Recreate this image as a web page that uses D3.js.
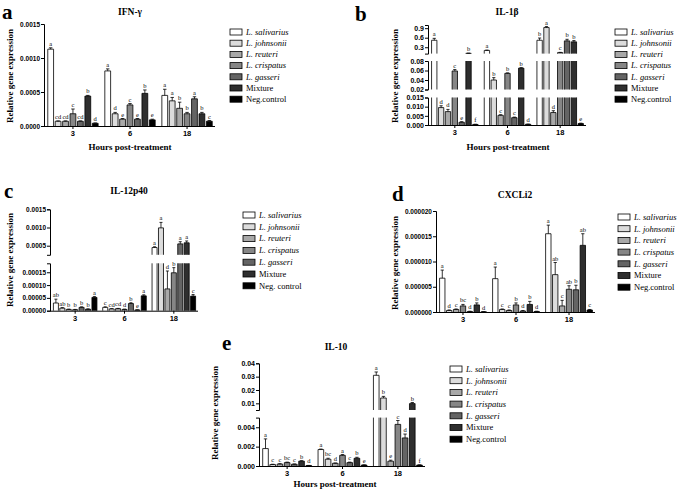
<!DOCTYPE html>
<html><head><meta charset="utf-8">
<script src="https://cdn.jsdelivr.net/npm/d3@7"></script>
<style>body{margin:0;background:#fff}svg{display:block}</style>
</head><body><svg id="chart" width="685" height="490"></svg>
<script>
// ---------- data ----------
const hours = ["3", "6", "18"];
const strains = ["L. salivarius", "L. johnsonii", "L. reuteri", "L. crispatus", "L. gasseri", "Mixture", "Neg.control"];
const strainsC = ["L. salivarius", "L. johnsonii", "L. reuteri", "L. crispatus", "L. gasseri", "Mixture", "Neg. control"];
const italicFlags = [true, true, true, true, true, false, false];

// IFN-γ
const ifnMean = [[0.00113, 0.00007, 0.00007, 0.00018, 0.00007, 0.00044, 0.00004],
                 [0.00081, 0.00018, 0.00010, 0.00031, 0.00010, 0.00048, 0.00009],
                 [0.00045, 0.00037, 0.00026, 0.00018, 0.00040, 0.00018, 0.00007]];
const ifnSd   = [[0.00002, 0.000005, 0.000005, 0.00007, 0.000005, 0.00001, 0.000005],
                 [0.00003, 0.00002, 0.00001, 0.00002, 0.00001, 0.00005, 0.00001],
                 [0.00009, 0.00005, 0.00009, 0.00002, 0.00003, 0.00002, 0.00001]];
const ifnSig  = [["a","cd","cd","c","cd","b","d"], ["a","d","e","c","e","b","e"], ["a","a","b","b","a","b","c"]];

// IL-1β
const il1Mean = [[0.52, 0.0095, 0.0073, 0.059, 0.0015, 0.11, 0.0003],
                 [0.20, 0.040, 0.0053, 0.054, 0.0040, 0.065, 0.0004],
                 [0.52, 0.92, 0.0068, 0.13, 0.50, 0.47, 0.0008]];
const il1Sd   = [[0.06, 0.001, 0.0012, 0.003, 0.0003, 0.004, 0.0001],
                 [0.01, 0.005, 0.0003, 0.001, 0.0003, 0.001, 0.0001],
                 [0.07, 0.03, 0.001, 0.01, 0.05, 0.04, 0.0002]];
const il1Sig  = [["a","d","d","c","e","b","f"], ["a","b","c","b","c","b","d"], ["b","a","d","c","b","b","e"]];

// IL-12p40
const il12Mean = [[0.000030, 0.000010, 0.000005, 0.000004, 0.000013, 0.000006, 0.000052],
                  [0.000013, 0.000007, 0.000008, 0.000005, 0.000028, 0.000003, 0.000058],
                  [0.00045, 0.00099, 0.000085, 0.000148, 0.00055, 0.00058, 0.000057]];
const il12Sd   = [[0.000015, 0.000002, 0.000001, 0.000001, 0.000002, 0.000001, 0.000003],
                  [0.000002, 0.000001, 0.000001, 0.000001, 0.000003, 0.0000005, 0.000004],
                  [0.00002, 0.00015, 0.00007, 0.00002, 0.00006, 0.00005, 0.000006]];
const il12Sig  = [["ab","ab","b","b","b","b","a"], ["c","cd","cd","d","b","e","a"], ["a","a","d","b","a","a","c"]];

// CXCLi2
const cxMean = [[6.7e-6, 3e-7, 5e-7, 1.2e-6, 1e-7, 1.4e-6, 5e-8],
                [6.6e-6, 5e-7, 3e-7, 1.4e-6, 2e-7, 1.5e-6, 1e-7],
                [1.55e-5, 7.4e-6, 1.2e-6, 4.5e-6, 4.4e-6, 1.32e-5, 4e-7]];
const cxSd   = [[1.6e-6, 1e-7, 1e-7, 3e-7, 5e-8, 4e-7, 2e-8],
                [2.3e-6, 1e-7, 1e-7, 4e-7, 1e-7, 6e-7, 5e-8],
                [1.7e-6, 2.4e-6, 1.1e-6, 7e-7, 9e-7, 2.3e-6, 1e-7]];
const cxSig  = [["a","d","c","bc","d","b","d"], ["a","c","c","b","d","b","d"], ["a","ab","c","ab","b","ab","c"]];

// IL-10
const il10Mean = [[0.0018, 0.00015, 0.00020, 0.00035, 0.00018, 0.00050, 0.00005],
                  [0.0017, 0.00070, 0.00028, 0.00110, 0.00035, 0.00080, 0.00010],
                  [0.031, 0.014, 0.0005, 0.0043, 0.0029, 0.0098, 0.0001]];
const il10Sd   = [[0.0010, 0.00003, 0.00004, 0.00005, 0.00003, 0.00005, 0.00001],
                  [0.00005, 0.0001, 0.00003, 0.00008, 0.00005, 0.0001, 0.00002],
                  [0.0025, 0.0012, 0.0001, 0.0004, 0.0004, 0.0008, 0.00002]];
const il10Sig  = [["a","c","c","bc","c","b","d"], ["a","bc","d","a","c","b","e"], ["a","b","e","c","d","b","f"]];

// ---------- styles ----------
const fills = ["#ffffff", "#dcdcdc", "#a8a8a8", "#868686", "#646464", "#2e2e2e", "#000000"];
const SERIF = "'Liberation Serif','Times New Roman',serif";
const SANS = "'Liberation Sans',Arial,sans-serif";

const panels = [
  {letter:"a", letterPos:[2,19], title:"IFN-γ", titlePos:[130,15], mean:ifnMean, sd:ifnSd, sig:ifnSig,
   xr:[44,215], tickFont:6.5, ytitle:[10,76], xtitle:[130,150], legend:{x:230, y:32, dy:11.2, labels:strains},
   segs:[{domain:[0,0.0015], range:[126,24], ticks:[0,0.0005,0.0010,0.0015], fmt:".4f"}]},
  {letter:"b", letterPos:[355,21], title:"IL-1β", titlePos:[507,15], mean:il1Mean, sd:il1Sd, sig:il1Sig,
   xr:[428,586], tickFont:7, ytitle:[395,76], xtitle:[508,150], legend:{x:615, y:32, dy:11.2, labels:strains},
   segs:[{domain:[0,0.015], range:[125,97.5], ticks:[0,0.005,0.010,0.015], fmt:".3f"},
         {domain:[0.02,0.08], range:[89.5,61], ticks:[0.02,0.04,0.06,0.08], fmt:".2f"},
         {domain:[0.1,1.0], range:[53.6,25], ticks:[0.3,0.6,0.9], fmt:".1f"}]},
  {letter:"c", letterPos:[4,198], title:"IL-12p40", titlePos:[129,194], mean:il12Mean, sd:il12Sd, sig:il12Sig,
   xr:[50,198], tickFont:6.5, ytitle:[10,260], xtitle:null, legend:{x:243, y:215, dy:11.8, labels:strainsC},
   segs:[{domain:[0,0.000185], range:[310.7,263.3], ticks:[0,0.00005,0.00010,0.00015], fmt:".5f"},
         {domain:[0.00025,0.0015], range:[254.8,209.3], ticks:[0.0005,0.0010,0.0015], fmt:".4f"}]},
  {letter:"d", letterPos:[392,201], title:"CXCLi2", titlePos:[515,198], mean:cxMean, sd:cxSd, sig:cxSig,
   xr:[436,595], tickFont:6.5, ytitle:[395,263], xtitle:null, legend:{x:618, y:217, dy:11.7, labels:strains},
   segs:[{domain:[0,0.00002], range:[312,211], ticks:[0,0.000005,0.000010,0.000015,0.000020], fmt:".6f"}]},
  {letter:"e", letterPos:[222,350], title:"IL-10", titlePos:[336,350], mean:il10Mean, sd:il10Sd, sig:il10Sig,
   xr:[259,425], tickFont:7, ytitle:[215,413], xtitle:[335,487], legend:{x:450, y:369, dy:11.7, labels:strains},
   segs:[{domain:[0,0.005], range:[466,417.6], ticks:[0,0.002,0.004], fmt:".3f"},
         {domain:[0.005,0.04], range:[410,363.3], ticks:[0.01,0.02,0.03,0.04], fmt:".2f"}]}
];

const svg = d3.select("#chart");

function drawPanel(p) {
  const g = svg.append("g");
  const xg = d3.scaleBand().domain(hours).range([p.xr[0] + 1, p.xr[1]]).paddingInner(0.06).paddingOuter(0.02);
  const xb = d3.scaleBand().domain(d3.range(strains.length)).range([0, xg.bandwidth()]).padding(0.22);
  const bw = xb.bandwidth();
  const baseY = p.segs[0].range[0];

  p.segs.forEach(s => {
    const y = d3.scaleLinear().domain(s.domain).range(s.range);
    const [lo, hi] = s.domain;
    hours.forEach((h, gi) => {
      strains.forEach((st, i) => {
        const v = p.mean[gi][i];
        if (v <= lo) return;
        const top = Math.min(v, hi);
        const x0 = xg(h) + xb(i);
        g.append("rect").attr("x", x0).attr("y", y(top)).attr("width", bw)
          .attr("height", Math.max(0, y(lo) - y(top))).attr("fill", fills[i]);
        const edge = (x1, y1, x2, y2) => g.append("line").attr("x1", x1).attr("y1", y1)
          .attr("x2", x2).attr("y2", y2).attr("stroke", "#000").attr("stroke-width", 0.8);
        edge(x0, y(lo), x0, y(top));
        edge(x0 + bw, y(lo), x0 + bw, y(top));
        if (v <= hi) {
          edge(x0, y(top), x0 + bw, y(top));
          const e = p.sd[gi][i];
          const ye = y(Math.min(v + e, hi));
          const cx = x0 + bw / 2;
          edge(cx, y(v), cx, ye);
          edge(cx - bw * 0.3, ye, cx + bw * 0.3, ye);
          g.append("text").attr("x", cx).attr("y", ye - 2).attr("text-anchor", "middle")
            .attr("fill", "#000").attr("font-family", SERIF).attr("font-size", 6.5).text(p.sig[gi][i]);
        }
      });
    });
    const ax = g.append("g").attr("transform", `translate(${p.xr[0]},0)`)
      .call(d3.axisLeft(y).tickValues(s.ticks).tickFormat(d3.format(s.fmt)).tickSize(3).tickSizeOuter(3));
    ax.selectAll("path,line").attr("stroke", "#000").attr("stroke-width", 1);
    ax.selectAll("text").attr("font-family", SANS).attr("font-weight", "bold")
      .attr("font-size", p.tickFont).attr("fill", "#000").attr("x", -4);
  });

  const xa = g.append("g").attr("transform", `translate(0,${baseY})`)
    .call(d3.axisBottom(xg).tickSize(3).tickSizeOuter(0));
  xa.select(".domain").attr("d", `M${p.xr[0]},0.5H${p.xr[1]}`).attr("stroke", "#000").attr("stroke-width", 1);
  xa.selectAll("line").attr("stroke", "#000");
  xa.selectAll("text").attr("font-family", SANS).attr("font-weight", "bold")
    .attr("font-size", 7.5).attr("fill", "#000").attr("y", 5);

  // titles
  g.append("text").attr("x", p.letterPos[0]).attr("y", p.letterPos[1]).attr("fill", "#000")
    .attr("font-family", SERIF).attr("font-weight", "bold").attr("font-size", 21).text(p.letter);
  g.append("text").attr("x", p.titlePos[0]).attr("y", p.titlePos[1]).attr("text-anchor", "middle").attr("fill", "#000")
    .attr("font-family", SERIF).attr("font-weight", "bold").attr("font-size", 9.5).text(p.title);
  g.append("text").attr("transform", `translate(${p.ytitle[0]},${p.ytitle[1]}) rotate(-90)`)
    .attr("text-anchor", "middle").attr("dy", "0.35em").attr("fill", "#000")
    .attr("font-family", SERIF).attr("font-weight", "bold").attr("font-size", 9).text("Relative gene expression");
  if (p.xtitle) {
    g.append("text").attr("x", p.xtitle[0]).attr("y", p.xtitle[1]).attr("text-anchor", "middle").attr("fill", "#000")
      .attr("font-family", SERIF).attr("font-weight", "bold").attr("font-size", 9).text("Hours post-treatment");
  }

  // legend
  const lg = g.append("g");
  p.legend.labels.forEach((lab, i) => {
    const yy = p.legend.y + i * p.legend.dy;
    lg.append("rect").attr("x", p.legend.x).attr("y", yy - 3).attr("width", 12).attr("height", 6)
      .attr("fill", fills[i]).attr("stroke", "#000").attr("stroke-width", 0.8);
    lg.append("text").attr("x", p.legend.x + 16).attr("y", yy).attr("dy", "0.33em").attr("fill", "#000")
      .attr("font-family", SERIF).attr("font-size", 8.5)
      .attr("font-style", italicFlags[i] ? "italic" : "normal").text(lab);
  });
}

panels.forEach(drawPanel);
</script>
</body></html>
